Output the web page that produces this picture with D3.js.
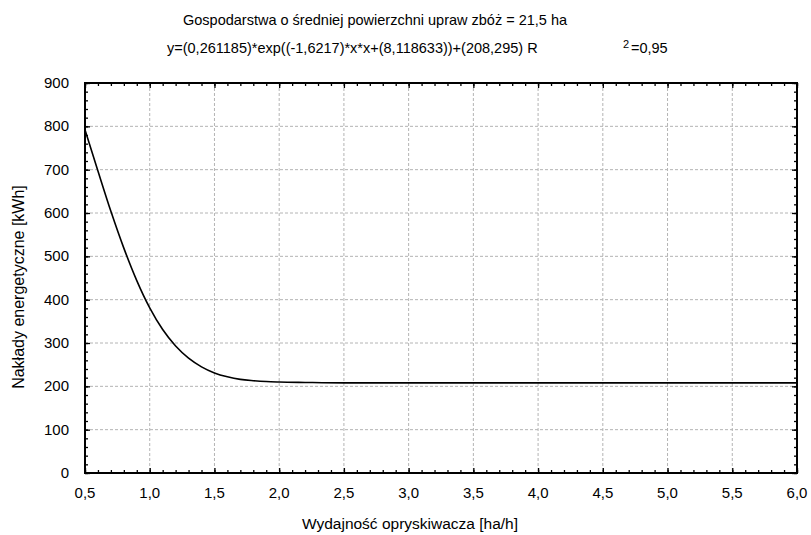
<!DOCTYPE html>
<html>
<head>
<meta charset="utf-8">
<script src="https://cdn.jsdelivr.net/npm/d3@7"></script>
<style>
    body { margin: 0; background: #fff; }
    text { font-family: "Liberation Sans", Arial, sans-serif; fill: #000; }
</style>
</head>
<body>
<div id="chart"></div>
<script>
// Data
const xValues = [0.5, 0.6, 0.7, 0.8, 0.9, 1.0, 1.1, 1.2, 1.3, 1.4, 1.5, 1.6, 1.7, 1.8, 1.9, 2.0, 2.2, 2.5, 3.0, 3.5, 4.0, 4.5, 5.0, 5.5, 6.0];
const yValues = [792, 697, 604, 519, 444, 381, 331, 293, 265, 245, 231, 222, 216, 213, 211, 210, 209, 208, 208, 208, 208, 208, 208, 208, 208];
const xTicks = [0.5, 1.0, 1.5, 2.0, 2.5, 3.0, 3.5, 4.0, 4.5, 5.0, 5.5, 6.0];
const yTicks = [0, 100, 200, 300, 400, 500, 600, 700, 800, 900];

const titleText = 'Gospodarstwa o średniej powierzchni upraw zbóż = 21,5 ha';
const equationText = 'y=(0,261185)*exp((-1,6217)*x*x+(8,118633))+(208,295) R';
const xLabel = 'Wydajność opryskiwacza [ha/h]';
const yLabel = 'Nakłady energetyczne [kWh]';

const W = 811, H = 535;
const margin = { top: 83, right: 14, bottom: 62, left: 85 };
const width = W - margin.left - margin.right;
const height = H - margin.top - margin.bottom;

const svg = d3.select('#chart').append('svg')
    .attr('width', W)
    .attr('height', H);

const g = svg.append('g')
    .attr('transform', `translate(${margin.left},${margin.top})`);

const x = d3.scaleLinear().domain([0.5, 6.0]).range([0, width]);
const y = d3.scaleLinear().domain([0, 900]).range([height, 0]);

const fmt = d => d3.format('.1f')(d).replace('.', ',');

// Grid lines
g.append('g')
    .selectAll('line')
    .data(xTicks.slice(1, -1))
    .enter()
    .append('line')
    .attr('x1', d => x(d)).attr('x2', d => x(d))
    .attr('y1', 0).attr('y2', height)
    .attr('stroke', '#b4b4b4')
    .attr('stroke-dasharray', '3,2');

g.append('g')
    .selectAll('line')
    .data(yTicks.slice(1, -1))
    .enter()
    .append('line')
    .attr('x1', 0).attr('x2', width)
    .attr('y1', d => y(d)).attr('y2', d => y(d))
    .attr('stroke', '#b4b4b4')
    .attr('stroke-dasharray', '3,2');

// Minor ticks every 0.1 on x, every 20 on y
const xMinor = d3.range(5, 61).map(d => d / 10);
const yMinor = d3.range(0, 901, 20);

function tickAxis(axis, scale, minor, major, len, transform) {
    const minorAxis = axis(scale).tickValues(minor).tickSize(-3).tickFormat('');
    const majorAxis = axis(scale).tickValues(major).tickSize(-len).tickFormat('');
    [minorAxis, majorAxis].forEach(a => {
        const sel = g.append('g').attr('transform', transform).call(a);
        sel.select('.domain').remove();
        sel.selectAll('line').attr('stroke', '#000').attr('stroke-width', 1.3);
    });
}
tickAxis(d3.axisBottom, x, xMinor, xTicks, 5, `translate(0,${height})`);
tickAxis(d3.axisTop, x, xMinor, xTicks, 5, 'translate(0,0)');
tickAxis(d3.axisLeft, y, yMinor, yTicks, 5, 'translate(0,0)');
tickAxis(d3.axisRight, y, yMinor, yTicks, 5, `translate(${width},0)`);

// Frame
g.append('rect')
    .attr('width', width)
    .attr('height', height)
    .attr('fill', 'none')
    .attr('stroke', '#000')
    .attr('stroke-width', 2);

// Tick labels
g.append('g')
    .selectAll('text')
    .data(xTicks)
    .enter()
    .append('text')
    .attr('x', d => x(d))
    .attr('y', height + 25)
    .attr('text-anchor', 'middle')
    .style('font-size', '15px')
    .text(fmt);

g.append('g')
    .selectAll('text')
    .data(yTicks)
    .enter()
    .append('text')
    .attr('x', -16)
    .attr('y', d => y(d) + 5)
    .attr('text-anchor', 'end')
    .style('font-size', '15px')
    .text(d => d);

// Curve
const line = d3.line()
    .x((d, i) => x(xValues[i]))
    .y(d => y(d))
    .curve(d3.curveMonotoneX);

g.append('path')
    .datum(yValues)
    .attr('d', line)
    .attr('fill', 'none')
    .attr('stroke', '#000')
    .attr('stroke-width', 1.6);

// Titles
svg.append('text')
    .attr('x', 183)
    .attr('y', 25)
    .style('font-size', '14.5px')
    .text(titleText);

svg.append('text')
    .attr('x', 167)
    .attr('y', 53)
    .style('font-size', '14.5px')
    .text(equationText);

svg.append('text')
    .attr('x', 623)
    .attr('y', 48)
    .style('font-size', '11px')
    .text('2');

svg.append('text')
    .attr('x', 631)
    .attr('y', 53)
    .style('font-size', '14.5px')
    .text('=0,95');

// Axis labels
svg.append('text')
    .attr('x', 410)
    .attr('y', 529)
    .attr('text-anchor', 'middle')
    .style('font-size', '15.5px')
    .text(xLabel);

svg.append('text')
    .attr('transform', `translate(24,287) rotate(-90)`)
    .attr('text-anchor', 'middle')
    .style('font-size', '16px')
    .text(yLabel);
</script>
</body>
</html>
